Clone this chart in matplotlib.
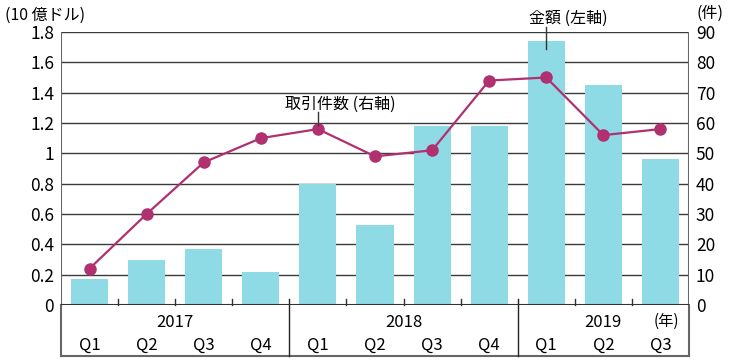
import matplotlib
matplotlib.use("Agg")
import matplotlib.pyplot as plt
import matplotlib.transforms as mtransforms

plt.rcParams['font.family'] = ['Noto Sans CJK JP', 'DejaVu Sans']

quarters = ['Q1', 'Q2', 'Q3', 'Q4', 'Q1', 'Q2', 'Q3', 'Q4', 'Q1', 'Q2', 'Q3']
years = ['2017', '2018', '2019']
year_pos = [1.5, 5.5, 9]
amount = [0.17, 0.30, 0.37, 0.22, 0.80, 0.53, 1.18, 1.18, 1.74, 1.45, 0.96]   # 10億ドル
deals = [12, 30, 47, 55, 58, 49, 51, 74, 75, 56, 58]                          # 件

bar_color = '#8fdbe5'
line_color = '#b03070'
grid_color = '#3a3a3a'
frame_color = '#666666'

fig = plt.figure(figsize=(7.5, 3.62), dpi=100)
ax = fig.add_axes([61 / 750, 57 / 362, 628 / 750, 273 / 362])
ax2 = ax.twinx()

x = list(range(len(amount)))
ax.bar(x, amount, width=0.65, color=bar_color, zorder=2)
ax.set_xlim(-0.5, len(amount) - 0.5)
ax.set_ylim(0, 1.8)
ax.set_yticks([0, 0.2, 0.4, 0.6, 0.8, 1, 1.2, 1.4, 1.6, 1.8])
ax.set_yticklabels(['0', '0.2', '0.4', '0.6', '0.8', '1', '1.2', '1.4', '1.6', '1.8'])
for yv in [0.2, 0.4, 0.6, 0.8, 1, 1.2, 1.4, 1.6, 1.8]:
    ax.axhline(yv, color=grid_color, lw=1, zorder=1)
ax.set_xticks([])

ax2.plot(x, deals, color=line_color, lw=1.6, marker='o', markersize=8, zorder=3)
ax2.set_ylim(0, 90)
ax2.set_yticks(range(0, 91, 10))

for a in (ax, ax2):
    a.tick_params(axis='y', length=0, labelsize=12.5, pad=5)
    for s in a.spines.values():
        s.set_visible(False)
ax.set_zorder(ax2.get_zorder() - 1)
ax2.patch.set_visible(False)

# frame
ax.axvline(-0.5, color=frame_color, lw=1.5, zorder=4)
ax.axvline(len(amount) - 0.5, color=frame_color, lw=1.5, zorder=4)
ax.axhline(0, color='#333333', lw=1.5, zorder=4)

# category table under the plot
trans = mtransforms.blended_transform_factory(ax.transData, ax.transAxes)
bot = -0.187
ax.plot([-0.5, -0.5], [0, bot], color=frame_color, lw=1.5, transform=trans, clip_on=False)
ax.plot([10.5, 10.5], [0, bot], color=frame_color, lw=1.5, transform=trans, clip_on=False)
ax.plot([-0.5, 10.5], [bot, bot], color=frame_color, lw=1.5, transform=trans, clip_on=False)
for b in [0.5, 1.5, 2.5, 4.5, 5.5, 6.5, 8.5, 9.5]:
    ax.plot([b, b], [0, 0.022], color='#333333', lw=1, transform=trans, clip_on=False)
for b in [3.5, 7.5]:
    ax.plot([b, b], [0.022, bot], color='#222222', lw=1, transform=trans, clip_on=False)
for i, q in enumerate(quarters):
    ax.text(i, -0.148, q, transform=trans, ha='center', va='center', fontsize=12)
for yp, yl in zip(year_pos, years):
    ax.text(yp, -0.065, yl, transform=trans, ha='center', va='center', fontsize=12)
ax.text(10.1, -0.06, '(年)', transform=trans, ha='center', va='center', fontsize=11)

# unit labels
fig.text(5 / 750, 1 - 15 / 362, '(10 億ドル)', ha='left', va='center', fontsize=11.5)
fig.text(710 / 750, 1 - 13 / 362, '(件)', ha='center', va='center', fontsize=11.5)

# series annotations
ax.plot([8, 8], [1.69, 1.83], color='#333333', lw=1, zorder=5, clip_on=False)
ax.text(8.38, 1.89, '金額 (左軸)', ha='center', va='center', fontsize=11.5)
ax2.plot([4, 4], [59.5, 63.6], color='#333333', lw=1, zorder=5)
ax2.text(4.4, 66, '取引件数 (右軸)', ha='center', va='center', fontsize=11.5)

fig.savefig('out.png', dpi=100)
